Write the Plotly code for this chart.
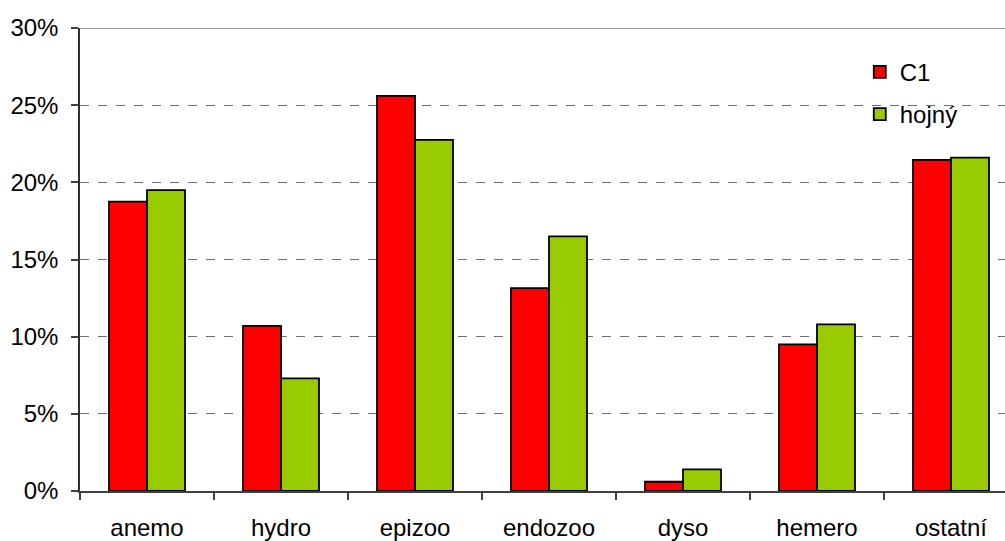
import plotly.graph_objects as go

# Share of species by dispersal mode (%)
categories = ["anemo", "hydro", "epizoo", "endozoo", "dyso", "hemero", "ostatní"]
c1_values = [18.75, 10.7, 25.6, 13.15, 0.6, 9.5, 21.45]
hojny_values = [19.5, 7.3, 22.75, 16.5, 1.4, 10.8, 21.6]
y_ticks = [0, 5, 10, 15, 20, 25, 30]
y_tick_labels = [f"{v}%" for v in y_ticks]

FONT = "Liberation Sans, Arial, sans-serif"

fig = go.Figure()
fig.add_trace(go.Bar(
    name="C1", x=categories, y=c1_values, legendgroup="c1",
    marker=dict(color="#ff0000", line=dict(color="#000000", width=1.8)),
))
fig.add_trace(go.Bar(
    name="hojný", x=categories, y=hojny_values, legendgroup="hojny",
    marker=dict(color="#99cc00", line=dict(color="#000000", width=1.8)),
))

# solid line closing the top of the plot area at 30 %
fig.add_shape(type="line", xref="paper", yref="y", x0=0, x1=1, y0=30, y1=30,
              line=dict(color="#808080", width=1.5), layer="below")

fig.update_layout(
    width=1005, height=541,
    margin=dict(l=80, r=0, t=28, b=50),
    paper_bgcolor="white", plot_bgcolor="white",
    barmode="group", bargap=0.433, bargroupgap=0,
    font=dict(family=FONT, size=24, color="#000000"),
    showlegend=True,
    legend=dict(
        x=0.843, y=0.953, xanchor="left", yanchor="top",
        bgcolor="rgba(0,0,0,0)", font=dict(size=24, family=FONT),
        tracegroupgap=8, itemwidth=30,
    ),
)

fig.update_xaxes(
    type="category", range=[-0.5, 6.403],
    showline=True, linecolor="#404040", linewidth=2,
    ticks="outside", tickson="boundaries", ticklen=7, tickcolor="#404040", tickwidth=1.5,
    ticklabelstandoff=14,
    showgrid=False, tickfont=dict(size=24, family=FONT),
)
fig.update_yaxes(
    range=[0, 30], tickmode="array", tickvals=y_ticks, ticktext=y_tick_labels,
    showline=True, linecolor="#303030", linewidth=1.5,
    ticks="outside", ticklen=7, tickcolor="#404040", tickwidth=1.5,
    ticklabelstandoff=8,
    showgrid=True, gridcolor="#707070", gridwidth=1, griddash="dash",
    zeroline=False, tickfont=dict(size=24, family=FONT),
)

fig.write_html("out.html")
